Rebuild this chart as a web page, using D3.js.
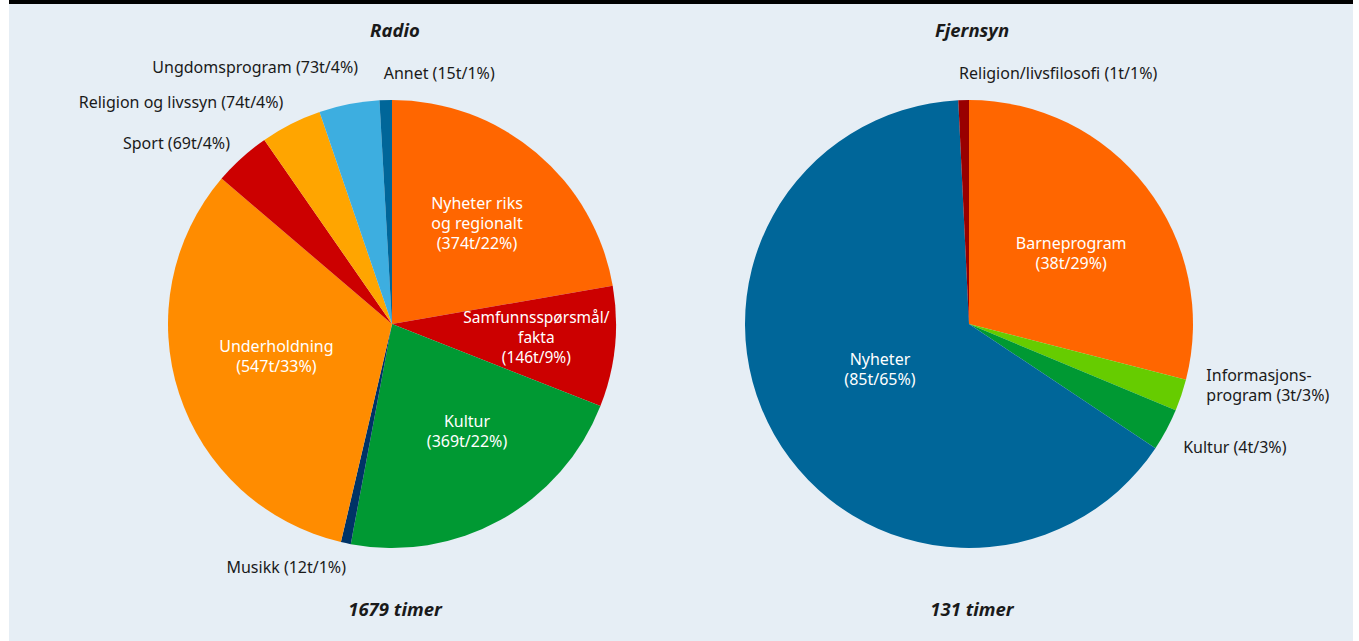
<!DOCTYPE html>
<html><head><meta charset="utf-8">
<script src="https://cdn.jsdelivr.net/npm/d3@7"></script>
<style>
html,body{margin:0;padding:0;background:#fff;}
text{font-family:"Noto Sans",sans-serif;}
</style></head>
<body>
<svg id="c" width="1359" height="641"></svg>
<script>
// ---- data ----
const radioCategories = ["Nyheter riks og regionalt","Samfunnsspørsmål/fakta","Kultur","Musikk","Underholdning","Sport","Religion og livssyn","Ungdomsprogram","Annet"];
const radioHours = [374,146,369,12,547,69,74,73,15];
const radioPercent = [22,9,22,1,33,4,4,4,1];
const radioColors = ["#ff6600","#cc0000","#009933","#003366","#ff8c00","#cc0000","#ffa500","#3daee0","#006699"];
const radioLabelLines = [["Nyheter riks","og regionalt","(374t/22%)"],["Samfunnsspørsmål/","fakta","(146t/9%)"],["Kultur","(369t/22%)"],["Musikk (12t/1%)"],["Underholdning","(547t/33%)"],["Sport (69t/4%)"],["Religion og livssyn (74t/4%)"],["Ungdomsprogram (73t/4%)"],["Annet (15t/1%)"]];

const tvCategories = ["Barneprogram","Informasjonsprogram","Kultur","Nyheter","Religion/livsfilosofi"];
const tvHours = [38,3,4,85,1];
const tvPercent = [29,3,3,65,1];
const tvColors = ["#ff6600","#66cc00","#009933","#006699","#990000"];
const tvLabelLines = [["Barneprogram","(38t/29%)"],["Informasjons-","program (3t/3%)"],["Kultur (4t/3%)"],["Nyheter","(85t/65%)"],["Religion/livsfilosofi (1t/1%)"]];

const titles = ["Radio","Fjernsyn"];
const totals = ["1679 timer","131 timer"];

// ---- layout (not data) ----
const W = 1359, H = 641, R = 224;
const svg = d3.select("#c");
svg.append("rect").attr("x",9).attr("y",0).attr("width",1344).attr("height",H).attr("fill","#e6eef5");
svg.append("rect").attr("x",9).attr("y",0).attr("width",1344).attr("height",4).attr("fill","#000");

const radioLayout = [
  {inside:true, r:132},
  {inside:true, r:145, da:-0.5, fs:15.5},
  {inside:true, r:131, da:-6},
  {inside:false, r:248, anchor:"end", da:-1.2},
  {inside:true, r:120, da:2.7},
  {inside:false, r:243, anchor:"end", da:0.3},
  {inside:false, r:247, anchor:"end", da:0.7},
  {inside:false, r:259, anchor:"end", da:3.5},
  {inside:false, r:251, anchor:"start", da:-0.3}
];
const tvLayout = [
  {inside:true, r:124, da:3.3},
  {inside:false, r:248, anchor:"start", da:-1.7, dy:-10},
  {inside:false, r:247, anchor:"start", da:1.7},
  {inside:true, r:100, da:2.5},
  {inside:false, r:251, anchor:"start", da:-0.9}
];

function drawPie(cx, cy, values, colors, lines, layout, title, total){
  const g = svg.append("g").attr("transform",`translate(${cx},${cy})`);
  const pie = d3.pie().sort(null).value(d=>d)(values);
  const arc = d3.arc().innerRadius(0).outerRadius(R);
  g.selectAll("path.slice").data(pie).join("path").attr("class","slice")
    .attr("d",arc).attr("fill",(d,i)=>colors[i]);
  pie.forEach((d,i)=>{
    const L = layout[i];
    const a = (d.startAngle+d.endAngle)/2 + (L.da||0)*Math.PI/180;
    const x = L.r*Math.sin(a), y = -L.r*Math.cos(a) + (L.dy||0);
    const ls = lines[i], n = ls.length, lh = 20;
    const t = g.append("text")
      .attr("x",x).attr("y",y)
      .attr("text-anchor", L.inside ? "middle" : L.anchor)
      .attr("fill", L.inside ? "#ffffff" : "#1a1a1a")
      .attr("font-size",L.fs||16);
    ls.forEach((s,k)=>{
      t.append("tspan").attr("x",x).attr("y", y + (k-(n-1)/2)*lh).attr("dy","0.35em").text(s);
    });
  });
  svg.append("text").attr("x",cx+3).attr("y",37).attr("text-anchor","middle")
    .attr("font-size",18.5).attr("font-weight","bold").attr("font-style","italic").attr("fill","#1a1a1a").text(title);
  svg.append("text").attr("x",cx+3).attr("y",616).attr("text-anchor","middle")
    .attr("font-size",18.5).attr("font-weight","bold").attr("font-style","italic").attr("fill","#1a1a1a").text(total);
}
drawPie(392,324,radioHours,radioColors,radioLabelLines,radioLayout,titles[0],totals[0]);
drawPie(969,324,tvHours,tvColors,tvLabelLines,tvLayout,titles[1],totals[1]);
</script>
</body></html>
